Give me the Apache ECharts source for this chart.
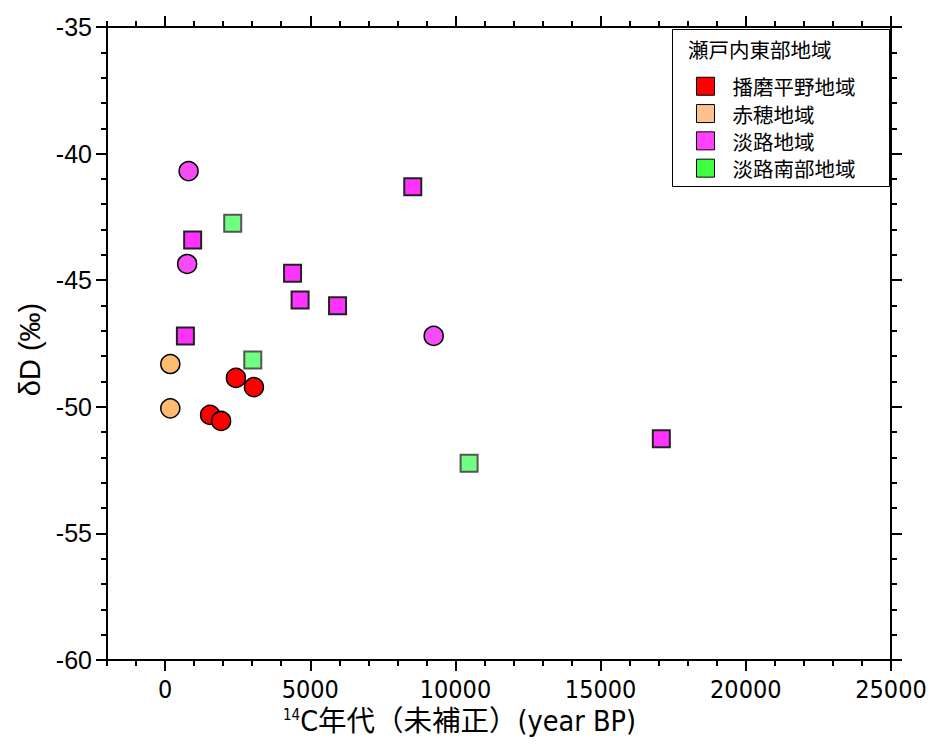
<!DOCTYPE html>
<html><head><meta charset="utf-8">
<script src="https://cdn.jsdelivr.net/npm/echarts@6/dist/echarts.min.js"></script>
<style>html,body{margin:0;padding:0;background:#fff}#c{width:933px;height:745px}</style>
</head><body><div id="c"></div>
<script>
// ---- data ----
const regions = ['播磨平野地域', '赤穂地域', '淡路地域', '淡路南部地域'];
const legendTitle = '瀬戸内東部地域';
const harimaCircles = [[2440, -48.86], [3060, -49.22], [1550, -50.32], [1930, -50.56]];
const akoCircles = [[180, -48.31], [180, -50.06]];
const awajiCircles = [[810, -40.69], [760, -44.36], [9250, -47.2]];
const awajiSquares = [[950, -43.41], [700, -47.2], [4390, -44.73], [4650, -45.78], [5940, -46.01], [8530, -41.31], [17090, -51.26]];
const awajiSouthSquares = [[2330, -42.75], [3020, -48.15], [10470, -52.23]];
const xTicks = [0, 5000, 10000, 15000, 20000, 25000];
const yTicks = [-60, -55, -50, -45, -40, -35];
const xTitleSup = '14';
const xTitleMain = 'C年代（未補正）(year BP)';
const yTitle = 'δD (‰)';

// ---- chart ----
const X_MIN = -2000, X_MAX = 25000, Y_MIN = -60, Y_MAX = -35;
const chart = echarts.init(document.getElementById('c'), null, {renderer: 'svg'});
const black = '#000';
const axisLine = {show: true, onZero: false, lineStyle: {color: black, width: 2}};
const noLine = {show: false, onZero: false};
const cjk = '"Noto Sans CJK JP", sans-serif';
const narrow = '"Liberation Sans Narrow", "DejaVu Sans Condensed", sans-serif';
const narrowCjk = '"Liberation Sans Narrow", "DejaVu Sans Condensed", "Noto Sans CJK JP", sans-serif';

function xAx(pos, major) {
  const a = {
    type: 'value', gridIndex: 0, position: pos, min: X_MIN, max: X_MAX,
    axisLine: major ? axisLine : noLine,
    splitLine: {show: false},
    axisTick: {show: true, inside: false, length: major ? 11 : 6, lineStyle: {color: black, width: 2}},
    axisLabel: {show: false}
  };
  if (major) {
    a.axisTick.customValues = xTicks;
    a.axisLabel = (pos === 'bottom') ? {show: true, customValues: xTicks, color: black, fontSize: 25,
      fontFamily: narrow, margin: 17, formatter: v => String(v)} : {show: false, customValues: xTicks};
  } else {
    a.interval = 1000;
  }
  return a;
}
function yAx(pos, major) {
  const a = {
    type: 'value', gridIndex: 0, position: pos, min: Y_MIN, max: Y_MAX,
    interval: major ? 5 : 1,
    axisLine: major ? axisLine : noLine,
    splitLine: {show: false},
    axisTick: {show: true, inside: false, length: major ? 11 : 6, lineStyle: {color: black, width: 2}},
    axisLabel: {show: false}
  };
  if (major && pos === 'left') {
    a.axisLabel = {show: true, color: black, fontSize: 25, fontFamily: '"Liberation Sans", sans-serif', margin: 15,
      customValues: yTicks, formatter: v => String(v)};
    a.name = yTitle;
    a.nameLocation = 'middle';
    a.nameGap = 60;
    a.nameRotate = 90;
    a.nameTextStyle = {color: black, fontSize: 29, fontFamily: '"Liberation Sans", sans-serif', padding: [0, 12, 0, 0]};
  }
  return a;
}

const legendColors = ['#ff0000', '#ffc090', '#ff40ff', '#40ff40'];

const option = {
  backgroundColor: '#fff',
  animation: false,
  grid: {left: 107, right: 42, top: 27, bottom: 85, containLabel: false},
  xAxis: [xAx('bottom', true), xAx('bottom', false), xAx('top', true), xAx('top', false)],
  yAxis: [yAx('left', true), yAx('left', false), yAx('right', true), yAx('right', false)],
  legend: {
    orient: 'vertical', left: 696, top: 76, padding: 0,
    itemWidth: 18, itemHeight: 18, itemGap: 6.8, icon: 'rect',
    textStyle: {color: black, fontSize: 20.5, fontFamily: cjk, lineHeight: 18, padding: [0, 0, 0, 13]},
    data: regions.map((n, i) => ({name: n, itemStyle: {color: legendColors[i], borderColor: black, borderWidth: 1}}))
  },
  graphic: [
    {type: 'rect', shape: {x: 672.5, y: 29.5, width: 217, height: 157}, style: {fill: 'none', stroke: black, lineWidth: 1}, z: 10},
    {type: 'text', x: 688, y: 49, z: 10, style: {text: legendTitle, fontSize: 20.5, fontFamily: cjk, fill: black, verticalAlign: 'middle', align: 'left'}},
    {type: 'text', x: 283, y: 721, z: 10, style: {
      text: '{s|' + xTitleSup + '}{t|' + xTitleMain + '}', verticalAlign: 'middle', align: 'left',
      rich: {
        s: {fontSize: 15, fontFamily: narrow, fill: black, verticalAlign: 'top', lineHeight: 28},
        t: {fontSize: 28.5, fontFamily: narrowCjk, fill: black, lineHeight: 28}
      }
    }}
  ],
  series: [
    {type: 'scatter', name: regions[0], data: harimaCircles, symbol: 'circle', symbolSize: 19,
      itemStyle: {color: '#ff0000', borderColor: black, borderWidth: 1.5, opacity: 1}},
    {type: 'scatter', name: regions[1], data: akoCircles, symbol: 'circle', symbolSize: 19,
      itemStyle: {color: '#ffbb70', borderColor: black, borderWidth: 1.5, opacity: 1}},
    {type: 'scatter', name: regions[2], data: awajiSquares, symbol: 'rect', symbolSize: 17,
      itemStyle: {color: '#ff33ff', borderColor: '#222', borderWidth: 2, opacity: 1}},
    {type: 'scatter', name: regions[2], data: awajiCircles, symbol: 'circle', symbolSize: 19,
      itemStyle: {color: '#f54cf5', borderColor: black, borderWidth: 1.5, opacity: 1}},
    {type: 'scatter', name: regions[3], data: awajiSouthSquares, symbol: 'rect', symbolSize: 17,
      itemStyle: {color: '#70ff80', borderColor: '#555', borderWidth: 2, opacity: 1}}
  ]
};
chart.setOption(option);
</script>
</body></html>
